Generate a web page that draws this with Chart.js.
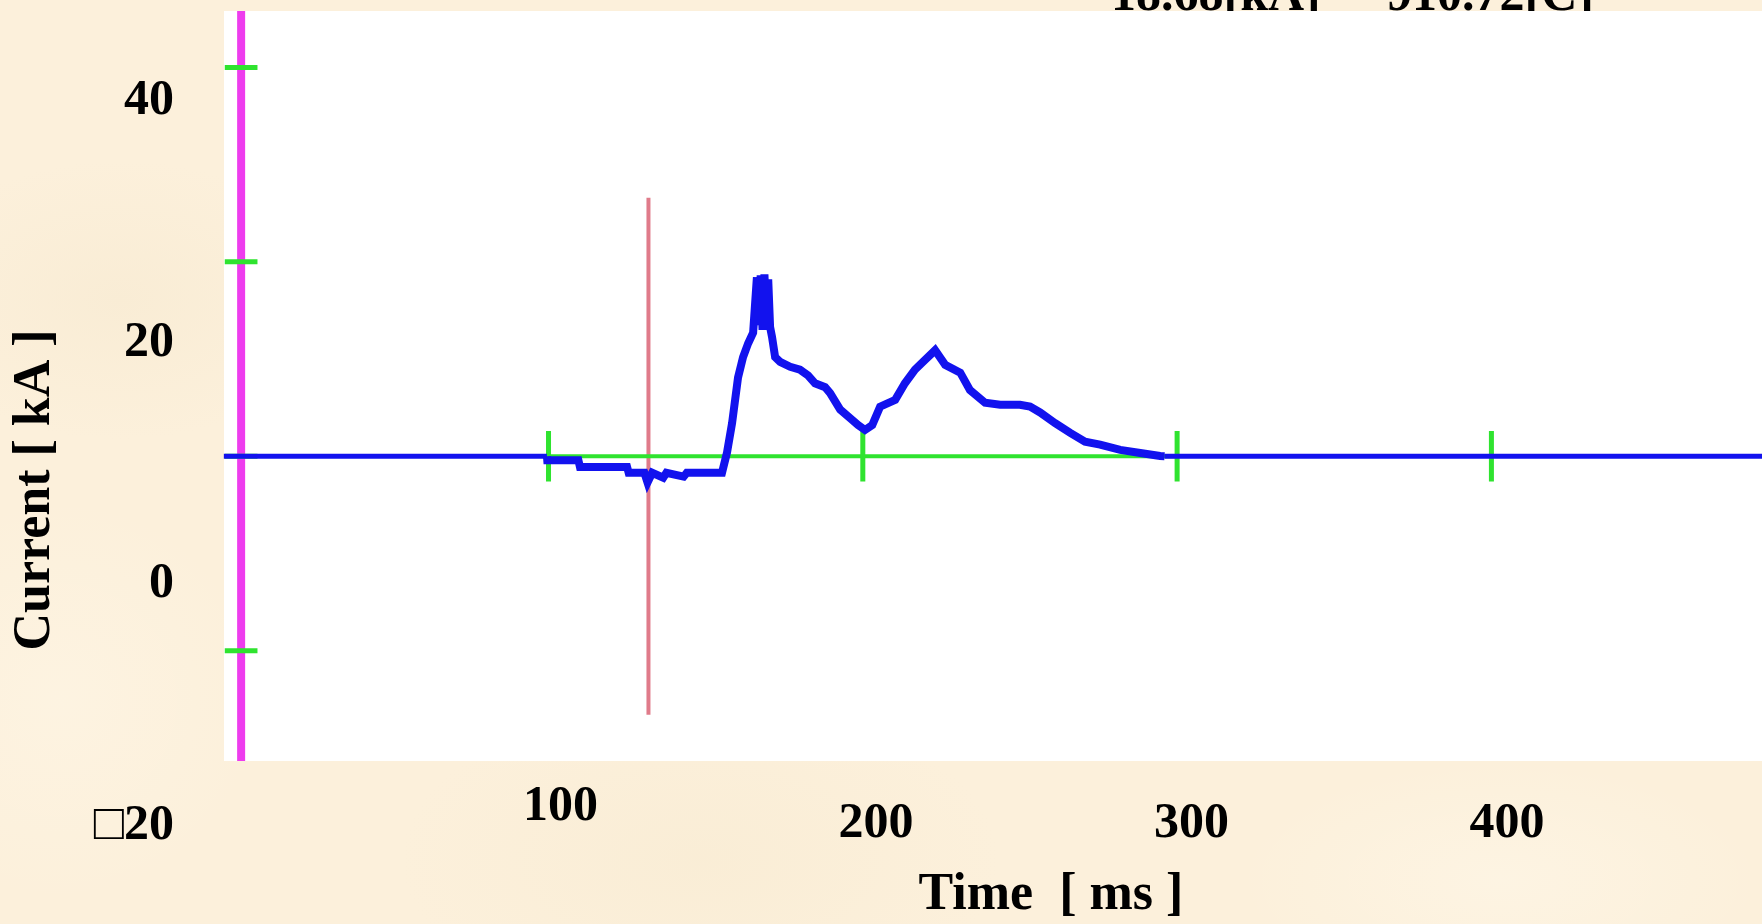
<!DOCTYPE html>
<html>
<head>
<meta charset="utf-8">
<script src="https://cdn.jsdelivr.net/npm/chart.js@4.4.1/dist/chart.umd.min.js"></script>
<style>
  html, body { margin: 0; padding: 0; overflow: hidden; }
  body {
    width: 1762px; height: 924px;
    background-color: #fcf0db;
    background-image:
      radial-gradient(ellipse 220px 140px at 120px 300px, rgba(240,225,195,0.25), transparent),
      radial-gradient(ellipse 300px 160px at 700px 860px, rgba(242,228,198,0.25), transparent),
      radial-gradient(ellipse 260px 120px at 1500px 880px, rgba(255,250,238,0.4), transparent),
      radial-gradient(ellipse 200px 200px at 60px 700px, rgba(255,248,234,0.4), transparent);
  }
  #wrap { width: 1762px; height: 924px; overflow: hidden; position: relative; }
  canvas { display: block; }
</style>
</head>
<body>
<div id="wrap"><canvas id="scope" width="1878" height="924"></canvas></div>
<script>
// trace: time [ms] / current [kA]
const timeMs = [-3.3, 99.5, 99.6, 109.5, 110, 125, 125.5, 130.5, 131.5, 133, 136.5, 137.5, 143, 144,
  155.2, 156.8, 158.4, 160.3, 161.9, 163.5, 165.1, 166.3, 166.9, 167.5, 168.1, 168.7, 169.3, 169.9,
  170.5, 171.1, 172.1, 173.7, 176.9, 180, 182.6, 184.8, 188, 189.6, 192.8, 196, 198.5, 200.7, 203,
  205.5, 210.3, 213.4, 216.6, 219.8, 223, 226.2, 231, 234.1, 238.9, 243.7, 250, 253.2, 256.4, 261.2,
  266, 270.7, 275.5, 281.9, 288.3, 294.6, 296, 523];
const currentKA = [0, 0, -0.4, -0.4, -1.1, -1.1, -1.7, -1.7, -2.7, -1.7, -2.2, -1.7, -2.1, -1.7,
  -1.7, 0.4, 3.4, 8.1, 10.2, 11.6, 12.7, 18.4, 13.5, 18.6, 13.0, 18.7, 14.0, 18.2,
  13.3, 12.3, 10.2, 9.7, 9.2, 8.9, 8.3, 7.5, 7.1, 6.5, 4.8, 3.9, 3.2, 2.7, 3.2,
  5.1, 5.8, 7.5, 8.9, 9.9, 10.9, 9.4, 8.6, 6.8, 5.5, 5.3, 5.3, 5.1, 4.5, 3.4,
  2.4, 1.5, 1.2, 0.65, 0.34, 0.03, 0, 0];

// scope grid marks
const gridTimes = [100, 200, 300, 400];
const gridCurrents = [-20, 0, 20, 40];
const zeroMarkFrom = 100, zeroMarkTo = 300;
const cursorTime = 131.8, cursorLow = -26.6, cursorHigh = 26.6;
const axisTime = 2.2;

// slide tick labels
const xTickLabels = [100, 200, 300, 400];
const yTickLabels = [-20, 0, 20, 40];
const peakText = '18.68[kA]';
const chargeText = '910.72[C]';

const X_MIN = -3.25, X_MAX = 523;
const Y_MIN = -31.35, Y_MAX = 45.8;
const TICK_H = 2.6, TICK_W = 5.2;

const serif = '"Liberation Serif", "Times New Roman", serif';

const trace = timeMs.map((t, i) => ({ x: t, y: currentKA[i] }));

const xMarks = [];
gridTimes.forEach(t => xMarks.push({ x: t, y: -TICK_H }, { x: t, y: TICK_H }, { x: t, y: null }));
const yMarks = [];
gridCurrents.forEach(v => yMarks.push({ x: axisTime - TICK_W, y: v }, { x: axisTime + TICK_W, y: v }, { x: axisTime, y: null }));

// white plot panel + the clipped readout line above it
const panel = {
  id: 'panel',
  beforeDraw(chart) {
    const { ctx, chartArea: a } = chart;
    ctx.save();
    ctx.font = 'bold 50px ' + serif;
    ctx.fillStyle = '#000';
    ctx.textBaseline = 'alphabetic';
    ctx.textAlign = 'left';
    ctx.fillText(peakText, 1111, 10);
    ctx.fillText(chargeText, 1387, 10);
    ctx.fillStyle = '#ffffff';
    ctx.fillRect(a.left, a.top, a.right - a.left, a.bottom - a.top);
    ctx.restore();
  }
};

const lineOpts = { pointRadius: 0, fill: false, tension: 0, clip: false };

new Chart(document.getElementById('scope'), {
  type: 'line',
  data: {
    datasets: [
      Object.assign({ label: 'Current', data: trace, borderColor: '#1212ee', borderJoinStyle: 'miter',
        borderWidth: 8,
        segment: { borderWidth: c => (c.p0.parsed.y === 0 && c.p1.parsed.y === 0) ? 5 : 8 } }, lineOpts),
      Object.assign({ label: 'tick x', data: xMarks, borderColor: '#2fe32f', borderWidth: 5 }, lineOpts),
      Object.assign({ label: 'zero', data: [{ x: zeroMarkFrom, y: 0 }, { x: zeroMarkTo, y: 0 }],
        borderColor: '#2fe32f', borderWidth: 4 }, lineOpts),
      Object.assign({ label: 'cursor', data: [{ x: cursorTime, y: cursorLow }, { x: cursorTime, y: cursorHigh }],
        borderColor: '#e07b8a', borderWidth: 4 }, lineOpts),
      Object.assign({ label: 'tick y', data: yMarks, borderColor: '#2fe32f', borderWidth: 5 }, lineOpts),
      Object.assign({ label: 'axis', data: [{ x: axisTime, y: Y_MIN }, { x: axisTime, y: Y_MAX }],
        borderColor: '#ee3cee', borderWidth: 8, clip: 0 }, { pointRadius: 0, tension: 0 })
    ]
  },
  options: {
    responsive: false,
    animation: false,
    layout: { padding: { top: 11, left: 0, right: 0, bottom: 0 } },
    plugins: { legend: { display: false }, tooltip: { enabled: false } },
    scales: {
      x: { type: 'linear', display: false, min: X_MIN, max: X_MAX },
      y: { type: 'linear', display: false, min: Y_MIN, max: Y_MAX },
      xl: {
        type: 'linear', position: 'bottom', min: -6.66, max: 517.6,
        afterBuildTicks: s => { s.ticks = xTickLabels.map(v => ({ value: v })); },
        afterFit: s => { s.height = 163; },
        grid: { display: false, drawTicks: false },
        border: { display: false },
        ticks: {
          padding: 33, color: '#000', maxRotation: 0, autoSkip: false,
          font: c => ({ family: serif, size: 50, weight: 'bold',
            lineHeight: (c.tick && c.tick.value === xTickLabels[0]) ? '26px' : '60px' })
        },
        title: { display: true, text: 'Time  [ ms ]', color: '#000',
          font: { family: serif, size: 52, weight: 'bold', lineHeight: 1 }, padding: { top: 0, bottom: 2 } }
      },
      yl: {
        type: 'linear', position: 'left', min: -14.63, max: 47.46,
        afterBuildTicks: s => { s.ticks = yTickLabels.map(v => ({ value: v })); },
        afterFit: s => { s.width = 224; s.paddingTop = 0; s.paddingBottom = 0; },
        grid: { display: false, drawTicks: false },
        border: { display: false },
        ticks: {
          padding: 50, color: '#000', autoSkip: false,
          font: { family: serif, size: 50, weight: 'bold' },
          callback: v => v < 0 ? '\u25A1' + Math.abs(v) : String(v)
        },
        title: { display: true, text: 'Current [ kA ]' + ' '.repeat(16), color: '#000',
          font: { family: serif, size: 52, weight: 'bold', lineHeight: 1 }, padding: { top: 10, bottom: 0 } }
      }
    }
  },
  plugins: [panel]
});
</script>
</body>
</html>
